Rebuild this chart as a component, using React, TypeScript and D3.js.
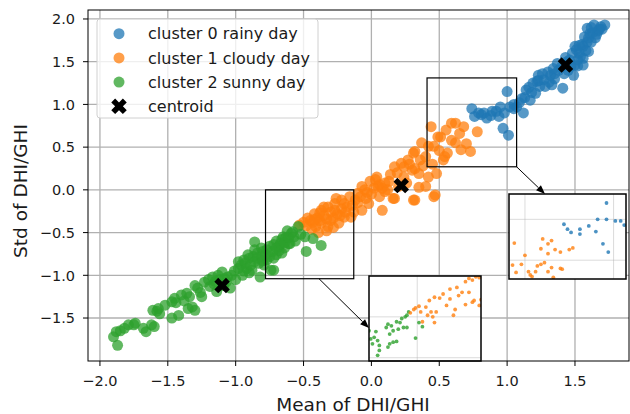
import React from "react";
import * as d3 from "d3";

// ---------- data ----------
const legendLabels = ["cluster 0 rainy day", "cluster 1 cloudy day", "cluster 2 sunny day", "centroid"];
const xTicks = [-2.0, -1.5, -1.0, -0.5, 0.0, 0.5, 1.0, 1.5];
const yTicks = [-1.5, -1.0, -0.5, 0.0, 0.5, 1.0, 1.5, 2.0];

const rainyPoints: [number, number][] = [
  [0.74,0.95],[0.76,0.86],[0.81,0.88],[0.85,0.84],[0.89,0.92],[0.94,0.86],[0.95,0.97],[0.97,0.72],[1.01,0.64],[1.00,1.15],
  [1.02,0.97],[1.07,0.97],[1.12,0.90],[1.11,1.07],[1.14,1.17],[1.17,1.05],[1.21,1.13],[1.19,1.25],[1.23,1.34],[1.24,1.21],
  [1.28,1.21],[1.27,1.29],[1.33,1.23],[1.32,1.34],[1.34,1.42],[1.37,1.48],[1.41,1.19],[1.45,1.40],[1.49,1.34],[1.50,1.46],
  [1.48,1.60],[1.51,1.64],[1.54,1.56],[1.56,1.68],[1.59,1.73],[1.60,1.62],[1.61,1.83],[1.59,1.89],[1.64,1.93],[1.69,1.91],
  [1.72,1.93],[1.57,1.79],[1.62,1.73],[1.65,1.78],[1.55,1.70],[1.50,1.68],[1.56,1.46],[1.35,1.36],[1.30,1.38],[1.26,1.36],
  [1.23,1.28],[1.44,1.50],[1.47,1.45],[1.52,1.52],[1.58,1.63],[1.63,1.84],[1.67,1.86],[1.70,1.88],[1.53,1.60],[1.40,1.44],
  [1.38,1.40],[1.18,1.14],[1.09,1.02],[1.05,1.00],[0.88,0.87],[0.92,0.92],[0.79,0.90],[1.05,0.95],[1.22,1.27],[1.56,1.54],
  [1.43,1.55],[1.46,1.52],[1.53,1.69],[1.60,1.78],[1.66,1.82],[1.68,1.88],[1.62,1.90],[1.35,1.30],[1.31,1.26],[1.16,1.20],
  [1.13,1.08],[0.98,0.90],[0.83,0.90],[1.42,1.36],[1.52,1.45],
];

const cloudyPoints: [number, number][] = [
  [-0.53,-0.41],[-0.47,-0.33],[-0.42,-0.28],[-0.37,-0.24],[-0.32,-0.20],[-0.27,-0.16],[-0.22,-0.12],[-0.18,-0.20],[-0.24,-0.39],[-0.32,-0.43],
  [-0.37,-0.39],[-0.41,-0.43],[-0.20,-0.32],[-0.15,-0.32],[-0.12,-0.12],[-0.07,-0.24],[-0.10,-0.04],[-0.05,0.00],[-0.01,0.10],[0.03,0.12],
  [0.05,0.04],[0.06,-0.08],[0.08,-0.24],[0.10,-0.02],[0.13,0.10],[0.16,-0.10],[0.17,0.27],[0.22,0.31],[0.24,0.15],[0.27,0.35],
  [0.30,0.23],[0.31,0.43],[0.32,-0.12],[0.35,0.19],[0.36,0.35],[0.40,0.04],[0.42,0.51],[0.47,-0.06],[0.48,0.19],[0.44,0.74],
  [0.49,0.62],[0.54,0.39],[0.59,0.78],[0.62,0.78],[0.68,0.74],[0.65,0.66],[0.78,0.68],[0.70,0.54],[0.73,0.45],[0.59,0.58],
  [0.56,0.43],[0.51,0.62],[0.46,0.51],[0.53,0.35],[0.40,0.39],[0.32,0.45],[0.32,0.25],[0.24,0.27],[0.35,0.03],[0.46,-0.08],
  [0.31,-0.12],[0.17,-0.10],[0.04,0.15],[-0.07,0.04],[0.06,0.06],[-0.45,-0.36],[-0.40,-0.33],[-0.35,-0.30],[-0.30,-0.26],[-0.28,-0.33],
  [-0.25,-0.28],[-0.22,-0.22],[-0.30,-0.36],[-0.35,-0.20],[-0.26,-0.10],[-0.16,-0.08],[-0.14,-0.18],[-0.10,-0.15],[-0.04,-0.10],[0.00,-0.05],
  [0.02,0.02],[-0.02,-0.16],[-0.50,-0.38],[-0.44,-0.46],[-0.39,-0.50],[-0.33,-0.48],[-0.28,-0.44],[0.10,0.08],[0.14,0.18],[0.19,0.20],
  [0.20,0.04],[0.26,0.08],[0.28,0.30],[0.38,0.28],[0.42,0.15],[0.45,0.30],[0.50,0.46],[0.62,0.55],[0.66,0.47],[0.37,0.55],[0.55,0.70],
  [-0.48,-0.42],[-0.43,-0.38],[-0.38,-0.36],[-0.33,-0.34],[-0.27,-0.24],[-0.23,-0.30],[-0.19,-0.26],[-0.20,-0.16],[-0.13,-0.26],[-0.08,-0.08],
  [-0.03,-0.03],[-0.38,-0.27],[-0.42,-0.35],[0.08,0.02],[0.12,0.00],
];

const sunnyPoints: [number, number][] = [
  [-1.87,-1.82],[-1.90,-1.72],[-1.88,-1.66],[-1.82,-1.62],[-1.79,-1.58],[-1.74,-1.56],[-1.68,-1.62],[-1.66,-1.66],[-1.62,-1.58],[-1.60,-1.60],
  [-1.61,-1.41],[-1.57,-1.39],[-1.52,-1.35],[-1.47,-1.31],[-1.45,-1.27],[-1.40,-1.23],[-1.47,-1.50],[-1.42,-1.47],[-1.35,-1.39],[-1.30,-1.41],
  [-1.32,-1.37],[-1.36,-1.21],[-1.30,-1.12],[-1.25,-1.25],[-1.28,-1.15],[-1.23,-1.08],[-1.19,-1.13],[-1.17,-1.02],[-1.14,-1.19],[-1.10,-0.96],
  [-1.07,-1.08],[-1.04,-1.15],[-1.03,-1.00],[-0.98,-0.92],[-0.98,-0.84],[-0.94,-0.82],[-0.91,-0.76],[-0.92,-0.92],[-0.88,-0.94],[-0.86,-0.61],
  [-0.86,-0.70],[-0.83,-0.86],[-0.81,-0.68],[-0.81,-0.78],[-0.70,-0.76],[-0.65,-0.55],[-0.58,-0.49],[-0.48,-0.72],[-0.60,-0.63],[-0.72,-0.94],
  [-0.82,-1.02],[-0.74,-0.94],[-0.66,-0.74],[-0.61,-0.63],[-0.59,-0.51],[-0.54,-0.43],[-0.49,-0.55],[-0.43,-0.57],[-0.37,-0.65],[-1.12,-1.05],
  [-1.06,-1.02],[-1.01,-0.95],[-0.96,-0.88],[-0.93,-0.86],[-0.90,-0.80],[-0.87,-0.78],[-0.84,-0.74],[-0.80,-0.72],[-0.77,-0.70],[-0.75,-0.66],
  [-0.72,-0.64],[-0.70,-0.60],[-0.68,-0.66],[-0.66,-0.58],[-0.63,-0.56],[-0.77,-0.82],[-0.79,-0.88],[-0.72,-0.80],[-0.68,-0.71],[-0.64,-0.68],
  [-0.56,-0.60],[-0.52,-0.52],[-0.62,-0.48],[-1.20,-1.05],[-1.16,-1.10],[-1.34,-1.25],[-1.44,-1.32],[-1.56,-1.45],[-1.58,-1.42],[-1.75,-1.58],
  [-1.85,-1.65],[-1.38,-1.30],[-1.26,-1.20],[-1.09,-1.12],[-1.00,-1.05],[-0.95,-1.00],[-0.90,-0.97],[-0.94,-0.95],[-0.89,-0.88],[-0.86,-0.84],
  [-0.84,-0.80],[-0.80,-0.83],[-0.78,-0.76],[-0.75,-0.78],[-0.73,-0.72],[-0.70,-0.68],[-0.67,-0.63],[-0.64,-0.62],[-0.61,-0.56],[-0.57,-0.55],
  [-1.13,-1.00],[-1.08,-1.04],[-1.15,-1.07],
];

const centroids: [number, number][] = [[1.43, 1.46], [0.22, 0.05], [-1.10, -1.12]];

// zoom windows (data ranges)
const zoomUpperX = [0.41, 1.07];
const zoomUpperY = [0.27, 1.31];
const zoomLowerX = [-0.78, -0.13];
const zoomLowerY = [-1.04, 0.0];

const insetUpperRainy: [number, number][] = [
  [0.96,1.20],[0.91,1.00],[0.96,1.00],[1.01,0.98],[1.04,0.98],[1.06,0.93],[0.86,0.92],[0.81,0.88],[0.81,0.82],[0.76,0.84],
  [0.74,0.88],[0.72,0.94],[0.90,0.85],[0.94,0.70],[0.97,0.60],
];
const insetUpperCloudy: [number, number][] = [
  [0.44,0.71],[0.50,0.56],[0.43,0.44],[0.45,0.35],[0.48,0.45],[0.53,0.32],[0.54,0.30],[0.60,0.76],[0.63,0.70],[0.65,0.74],
  [0.59,0.64],[0.63,0.58],[0.67,0.63],[0.70,0.60],[0.75,0.63],[0.77,0.65],[0.59,0.45],[0.61,0.47],[0.57,0.43],[0.63,0.36],
  [0.65,0.41],[0.70,0.40],[0.71,0.39],[0.66,0.29],[0.56,0.36],[0.52,0.36],
];
const insetLowerSunny: [number, number][] = [
  [-0.73,-0.97],[-0.72,-0.91],[-0.76,-0.83],[-0.77,-0.77],[-0.75,-0.75],[-0.73,-0.79],[-0.72,-0.85],[-0.78,-0.67],[-0.74,-0.68],[-0.67,-0.59],
  [-0.68,-0.63],[-0.65,-0.61],[-0.66,-0.71],[-0.64,-0.67],[-0.62,-0.56],[-0.60,-0.57],[-0.61,-0.65],[-0.58,-0.63],[-0.56,-0.63],[-0.59,-0.52],
  [-0.57,-0.50],[-0.56,-0.48],[-0.66,-0.83],[-0.64,-0.81],[-0.62,-0.80],[-0.67,-0.87],[-0.51,-0.76],[-0.49,-0.57],[-0.47,-0.62],[-0.55,-0.44],
];
const insetLowerCloudy: [number, number][] = [
  [-0.54,-0.45],[-0.52,-0.41],[-0.51,-0.39],[-0.49,-0.37],[-0.48,-0.44],[-0.45,-0.38],[-0.44,-0.48],[-0.47,-0.56],[-0.41,-0.50],[-0.40,-0.57],
  [-0.42,-0.44],[-0.39,-0.44],[-0.43,-0.30],[-0.40,-0.26],[-0.37,-0.27],[-0.35,-0.22],[-0.33,-0.36],[-0.31,-0.28],[-0.29,-0.48],[-0.28,-0.41],
  [-0.31,-0.16],[-0.27,-0.14],[-0.26,-0.24],[-0.24,-0.20],[-0.22,-0.35],[-0.20,-0.20],[-0.18,-0.32],[-0.17,-0.30],[-0.22,-0.07],[-0.20,-0.03],
  [-0.18,-0.05],[-0.16,-0.01],[-0.14,-0.02],[-0.14,-0.36],[-0.13,-0.29],
];

// ---------- styling / layout ----------
const W = 630, H = 414;
const PL = 88, PR = 629, PT = 10, PB = 361;
const FONT = "DejaVu Sans, sans-serif";
const BLUE = "#1f77b4", ORANGE = "#ff7f0e", GREEN = "#2ca02c";
const GRID = "#b0b0b0";
const TXT = "#1a1a1a";

const x = d3.scaleLinear().domain([-2.088, 1.898]).range([PL, PR]);
const y = d3.scaleLinear().domain([-2.003, 2.105]).range([PB, PT]);
const fmt = d3.format(".1f");
const xSymbol = d3.symbol().type(d3.symbolCross).size(150)() as string;

type Inset = { left: number; top: number; w: number; h: number; xd: number[]; yd: number[]; series: { pts: [number, number][]; color: string }[] };

const insets: Inset[] = [
  { left: 509, top: 194, w: 117, h: 85, xd: zoomUpperX, yd: zoomUpperY, series: [ { pts: insetUpperCloudy, color: ORANGE }, { pts: insetUpperRainy, color: BLUE } ] },
  { left: 369, top: 276, w: 112, h: 85, xd: zoomLowerX, yd: zoomLowerY, series: [ { pts: insetLowerSunny, color: GREEN }, { pts: insetLowerCloudy, color: ORANGE } ] },
];

function Arrow({ x1, y1, x2, y2 }: { x1: number; y1: number; x2: number; y2: number }) {
  const ang = Math.atan2(y2 - y1, x2 - x1);
  const L = 9, Wd = 3.5;
  const bx = x2 - L * Math.cos(ang), by = y2 - L * Math.sin(ang);
  const px = -Math.sin(ang) * Wd, py = Math.cos(ang) * Wd;
  return (
    <g>
      <line x1={x1} y1={y1} x2={bx} y2={by} stroke="#000" strokeWidth={1} />
      <path d={`M${x2},${y2}L${bx + px},${by + py}L${bx - px},${by - py}Z`} fill="#000" />
    </g>
  );
}

export default function App() {
  const series = [
    { pts: rainyPoints, color: BLUE },
    { pts: cloudyPoints, color: ORANGE },
    { pts: sunnyPoints, color: GREEN },
  ];
  return (
    <svg width={W} height={H} style={{ position: "absolute", left: 0, top: 0, background: "#fff" }} fontFamily={FONT}>
      <defs>
        <clipPath id="plotclip"><rect x={PL} y={PT} width={PR - PL} height={PB - PT} /></clipPath>
        {insets.map((ins, i) => (
          <clipPath id={`insclip${i}`} key={i}><rect x={ins.left} y={ins.top} width={ins.w} height={ins.h} /></clipPath>
        ))}
      </defs>
      <rect x={0} y={0} width={W} height={H} fill="#fff" />
      {/* grid */}
      {xTicks.map((t) => (
        <line key={"gx" + t} x1={x(t)} x2={x(t)} y1={PT} y2={PB} stroke={GRID} strokeWidth={1.3} />
      ))}
      {yTicks.map((t) => (
        <line key={"gy" + t} x1={PL} x2={PR} y1={y(t)} y2={y(t)} stroke={GRID} strokeWidth={1.3} />
      ))}
      {/* scatter */}
      <g clipPath="url(#plotclip)">
        {series.map((s, si) => (
          <g key={si} fill={s.color} fillOpacity={0.75}>
            {s.pts.map((p, i) => (
              <circle key={i} cx={x(p[0])} cy={y(p[1])} r={5.5} />
            ))}
          </g>
        ))}
        {centroids.map((c, i) => (
          <path key={i} d={xSymbol} transform={`translate(${x(c[0])},${y(c[1])}) rotate(45)`} fill="#000" />
        ))}
      </g>
      {/* indicator boxes */}
      {[{ xd: zoomUpperX, yd: zoomUpperY }, { xd: zoomLowerX, yd: zoomLowerY }].map((b, i) => (
        <rect key={i} x={x(b.xd[0])} y={y(b.yd[1])} width={x(b.xd[1]) - x(b.xd[0])} height={y(b.yd[0]) - y(b.yd[1])}
          fill="none" stroke="#000" strokeWidth={1.2} />
      ))}
      {/* arrows */}
      <Arrow x1={x(zoomUpperX[1])} y1={y(zoomUpperY[0])} x2={545} y2={194} />
      <Arrow x1={319} y1={y(zoomLowerY[0])} x2={369} y2={328} />
      {/* insets */}
      {insets.map((ins, i) => {
        const ix = d3.scaleLinear().domain(ins.xd).range([ins.left, ins.left + ins.w]);
        const iy = d3.scaleLinear().domain(ins.yd).range([ins.top + ins.h, ins.top]);
        return (
          <g key={i}>
            <rect x={ins.left} y={ins.top} width={ins.w} height={ins.h} fill="#fff" />
            <g clipPath={`url(#insclip${i})`}>
              {xTicks.filter((t) => t >= ins.xd[0] && t <= ins.xd[1]).map((t) => (
                <line key={"ix" + t} x1={ix(t)} x2={ix(t)} y1={ins.top} y2={ins.top + ins.h} stroke={GRID} strokeOpacity={0.45} strokeWidth={1} />
              ))}
              {yTicks.filter((t) => t >= ins.yd[0] && t <= ins.yd[1]).map((t) => (
                <line key={"iy" + t} x1={ins.left} x2={ins.left + ins.w} y1={iy(t)} y2={iy(t)} stroke={GRID} strokeOpacity={0.45} strokeWidth={1} />
              ))}
              {ins.series.map((s, si) => (
                <g key={si} fill={s.color} fillOpacity={0.8}>
                  {s.pts.map((p, k) => (
                    <circle key={k} cx={ix(p[0])} cy={iy(p[1])} r={1.9} />
                  ))}
                </g>
              ))}
            </g>
            <rect x={ins.left} y={ins.top} width={ins.w} height={ins.h} fill="none" stroke="#000" strokeWidth={1.5} />
          </g>
        );
      })}
      {/* spines */}
      <rect x={PL} y={PT} width={PR - PL} height={PB - PT} fill="none" stroke="#000" strokeWidth={1} />
      {/* ticks */}
      {xTicks.map((t) => (
        <g key={"tx" + t}>
          <line x1={x(t)} x2={x(t)} y1={PB} y2={PB + 5} stroke="#000" strokeWidth={1} />
          <text x={x(t)} y={386} textAnchor="middle" fontSize={14.5} fill={TXT}>{fmt(t)}</text>
        </g>
      ))}
      {yTicks.map((t) => (
        <g key={"ty" + t}>
          <line x1={PL - 5} x2={PL} y1={y(t)} y2={y(t)} stroke="#000" strokeWidth={1} />
          <text x={75} y={y(t)} dy="0.36em" textAnchor="end" fontSize={14.5} fill={TXT}>{fmt(t)}</text>
        </g>
      ))}
      {/* axis labels */}
      <text x={353} y={411} textAnchor="middle" fontSize={18.5} fill={TXT}>Mean of DHI/GHI</text>
      <text transform="translate(27,191) rotate(-90)" textAnchor="middle" fontSize={18.5} fill={TXT}>Std of DHI/GHI</text>
      {/* legend */}
      <rect x={97} y={19} width={221} height={99} rx={3} fill="#fff" fillOpacity={0.8} stroke="#d0d0d0" strokeWidth={1} />
      {legendLabels.map((lab, i) => {
        const cy = 33.7 + i * 24.2;
        const color = [BLUE, ORANGE, GREEN][i];
        return (
          <g key={lab}>
            {i < 3 ? (
              <circle cx={119} cy={cy} r={5.5} fill={color} fillOpacity={0.75} />
            ) : (
              <path d={xSymbol} transform={`translate(119,${cy}) rotate(45)`} fill="#000" />
            )}
            <text x={148} y={cy} dy="0.36em" fontSize={16} fill={TXT}>{lab}</text>
          </g>
        );
      })}
    </svg>
  );
}
